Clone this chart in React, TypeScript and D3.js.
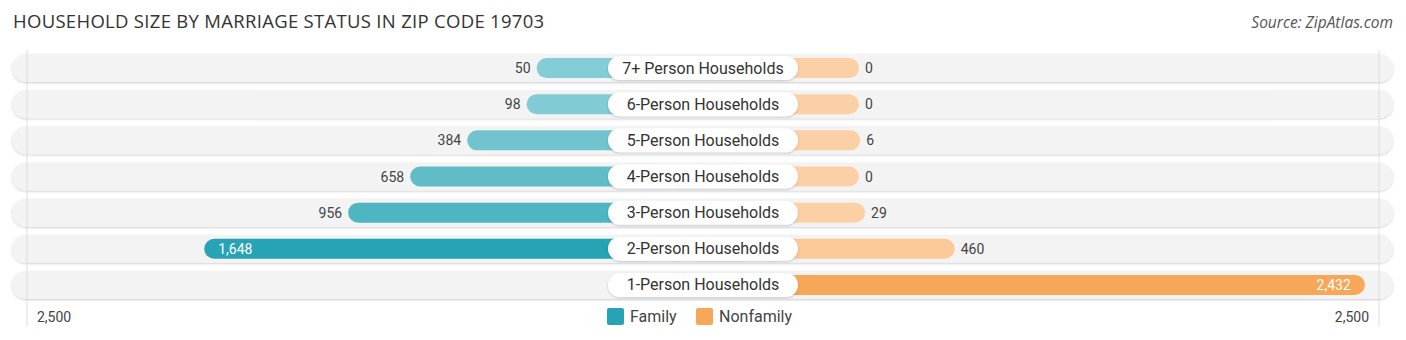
import React from "react";
import * as d3 from "d3";

const categories = [
  "7+ Person Households",
  "6-Person Households",
  "5-Person Households",
  "4-Person Households",
  "3-Person Households",
  "2-Person Households",
  "1-Person Households",
];
const familyValues = [50, 98, 384, 658, 956, 1648, 0];
const nonfamilyValues = [0, 0, 6, 0, 29, 460, 2432];
const axisMax = 2500;
const axisLabel = "2,500";
const seriesNames = ["Family", "Nonfamily"];

const W = 1406;
const H = 340;
const CX = 703;

export default function App() {
  const y = d3
    .scaleBand<string>()
    .domain(categories)
    .range([50, 303])
    .paddingInner(0.2)
    .paddingOuter(0.1);
  const len = d3.scaleLinear().domain([0, axisMax]).range([156, 676]);
  const fmt = d3.format(",");
  const famColor = d3.scaleLinear<string>().domain([0, 1648]).range(["#86ced6", "#26a3b4"]);
  const nonColor = d3.scaleLinear<string>().domain([0, 2432]).range(["#fcd0a6", "#f8a758"]);

  const rowH = 28;
  const barH = 20;
  const bw = y.bandwidth();

  return (
    <svg width={W} height={H} style={{ position: "absolute", left: 0, top: 0 }}>
      <defs>
        <filter id="sh" x="-5%" y="-30%" width="110%" height="160%">
          <feDropShadow dx="0" dy="1" stdDeviation="1.2" floodColor="#000" floodOpacity="0.2" />
        </filter>
      </defs>
      <rect width={W} height={H} fill="#fff" />
      <text
        x={13}
        y={28}
        fontFamily="'Open Sans', sans-serif"
        fontSize={18.5}
        letterSpacing={0.3}
        fill="#333"
      >
        HOUSEHOLD SIZE BY MARRIAGE STATUS IN ZIP CODE 19703
      </text>
      <text
        x={1393}
        y={28}
        textAnchor="end"
        fontFamily="'Open Sans', sans-serif"
        fontStyle="italic"
        fontSize={15.5}
        fill="#555"
      >
        Source: ZipAtlas.com
      </text>
      {categories.map((c, i) => {
        const cy = (y(c) as number) + bw / 2;
        return (
          <rect
            key={"bg" + i}
            x={12}
            y={cy - rowH / 2}
            width={1381}
            height={rowH}
            rx={rowH / 2}
            fill="#f3f3f3"
            filter="url(#sh)"
          />
        );
      })}
      <line x1={CX - len(axisMax)} x2={CX - len(axisMax)} y1={50} y2={326} stroke="#ddd" strokeWidth={1} />
      <line x1={CX + len(axisMax)} x2={CX + len(axisMax)} y1={50} y2={326} stroke="#ddd" strokeWidth={1} />
      {categories.map((c, i) => {
        const cy = (y(c) as number) + bw / 2;
        const fv = familyValues[i];
        const nv = nonfamilyValues[i];
        const fl = len(fv);
        const nl = len(nv);
        const fInside = fv > 1200;
        const nInside = nv > 1200;
        return (
          <g key={c}>
            {fv > 0 && (
              <rect
                x={CX - fl}
                y={cy - barH / 2}
                width={fl}
                height={barH}
                rx={barH / 2}
                fill={famColor(fv)}
              />
            )}
            <rect
              x={CX}
              y={cy - barH / 2}
              width={nl}
              height={barH}
              rx={barH / 2}
              fill={nonColor(nv)}
            />
            <rect
              x={CX - 95}
              y={cy - 12}
              width={190}
              height={24}
              rx={12}
              fill="#fff"
              filter="url(#sh)"
            />
            <text
              x={CX}
              y={cy + 5.5}
              textAnchor="middle"
              fontFamily="Roboto, sans-serif"
              fontSize={16}
              fill="#333"
            >
              {c}
            </text>
            {fv > 0 &&
              (fInside ? (
                <text
                  x={CX - fl + 14}
                  y={cy + 5}
                  fontFamily="Roboto, sans-serif"
                  fontSize={14}
                  fill="#fff"
                >
                  {fmt(fv)}
                </text>
              ) : (
                <text
                  x={CX - fl - 6}
                  y={cy + 5}
                  textAnchor="end"
                  fontFamily="Roboto, sans-serif"
                  fontSize={14}
                  fill="#444"
                >
                  {fmt(fv)}
                </text>
              ))}
            {nInside ? (
              <text
                x={CX + nl - 14}
                y={cy + 5}
                textAnchor="end"
                fontFamily="Roboto, sans-serif"
                fontSize={14}
                fill="#fff"
              >
                {fmt(nv)}
              </text>
            ) : (
              <text
                x={CX + nl + 6}
                y={cy + 5}
                fontFamily="Roboto, sans-serif"
                fontSize={14}
                fill="#444"
              >
                {fmt(nv)}
              </text>
            )}
          </g>
        );
      })}
      <text x={37} y={322} fontFamily="Roboto, sans-serif" fontSize={14} fill="#444">
        {axisLabel}
      </text>
      <text x={1369} y={322} textAnchor="end" fontFamily="Roboto, sans-serif" fontSize={14} fill="#444">
        {axisLabel}
      </text>
      <rect x={607} y={308} width={17} height={17} rx={2} fill="#26a3b4" />
      <text x={630} y={322} fontFamily="Roboto, sans-serif" fontSize={16} fill="#444">
        {seriesNames[0]}
      </text>
      <rect x={696} y={308} width={17} height={17} rx={2} fill="#f8a758" />
      <text x={719} y={322} fontFamily="Roboto, sans-serif" fontSize={16} fill="#444">
        {seriesNames[1]}
      </text>
    </svg>
  );
}
